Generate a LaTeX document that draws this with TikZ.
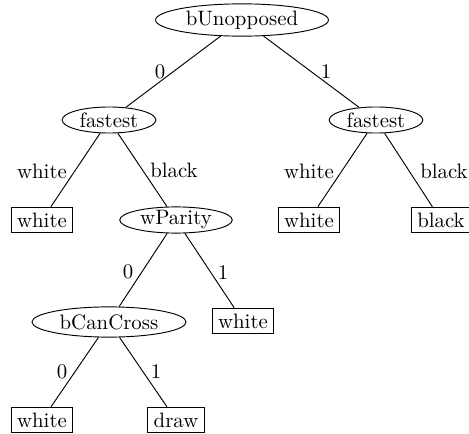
\documentclass[tikz,border=0pt]{standalone}
\usetikzlibrary{shapes.geometric}
\begin{document}
\begin{tikzpicture}[x=0.48pt,y=-0.48pt,
  dec/.style={draw,ellipse,inner sep=0pt,line width=0.45pt},
  leaf/.style={draw,rectangle,inner xsep=2.8pt,inner ysep=0pt,minimum height=12.3pt,line width=0.45pt},
  lbl/.style={inner sep=0pt},
  conn/.style={line width=0.45pt}]
\useasboundingbox (0,0) rectangle (469,434);
\node[dec,minimum width=83pt,minimum height=15.5pt] (bU) at (242,20) {bUnopposed};
\node[dec,minimum width=45pt,minimum height=12.5pt] (f1) at (109,120) {fastest};
\node[dec,minimum width=45pt,minimum height=12.5pt] (f2) at (376,120) {fastest};
\node[leaf] (w1) at (42,220) {white};
\node[dec,minimum width=54pt,minimum height=12.5pt] (wP) at (176,220) {wParity};
\node[leaf] (w2) at (309,220) {white};
\node[leaf] (bl) at (441,220) {black};
\node[dec,minimum width=74pt,minimum height=14.5pt] (bC) at (109,322) {bCanCross};
\node[leaf] (w3) at (243,321) {white};
\node[leaf] (w4) at (42,420) {white};
\node[leaf] (dr) at (176,420) {draw};
\draw[conn] (bU) -- (f1);
\draw[conn] (bU) -- (f2);
\draw[conn] (f1) -- (w1);
\draw[conn] (f1) -- (wP);
\draw[conn] (f2) -- (w2);
\draw[conn] (f2) -- (bl);
\draw[conn] (wP) -- (bC);
\draw[conn] (wP) -- (w3);
\draw[conn] (bC) -- (w4);
\draw[conn] (bC) -- (dr);
\node[lbl] (l1) at (160,72) {0};
\node[lbl] (l2) at (326,72) {1};
\node[lbl] (l3) at (42,171) {white};
\node[lbl] (l4) at (174,170) {black};
\node[lbl] (l5) at (309,171) {white};
\node[lbl] (l6) at (444,171) {black};
\node[lbl] (l7) at (128,272) {0};
\node[lbl] (l8) at (223,273) {1};
\node[lbl] (l9) at (62,372) {0};
\node[lbl] (l10) at (156,372) {1};
\end{tikzpicture}
\end{document}
